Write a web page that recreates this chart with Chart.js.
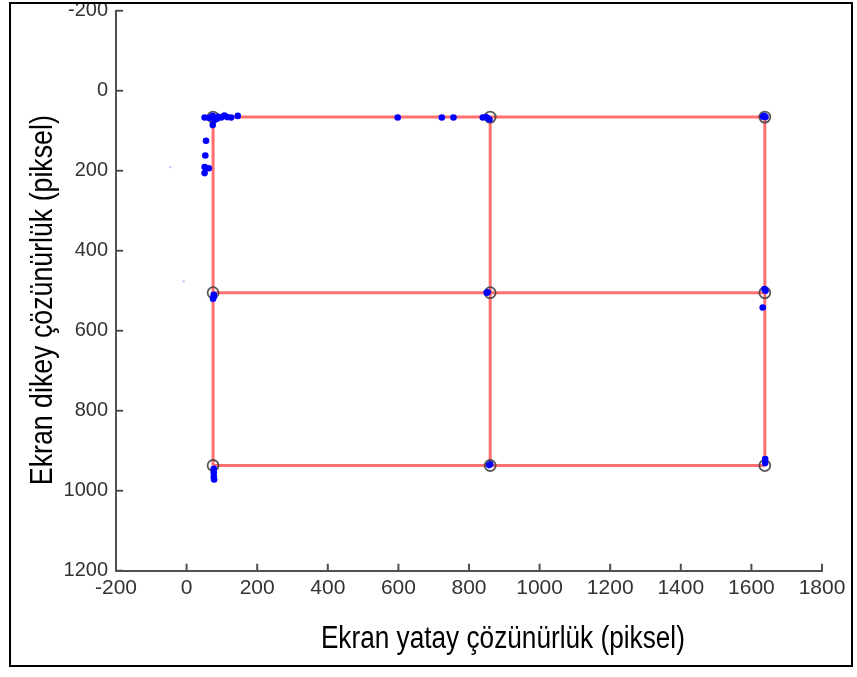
<!DOCTYPE html>
<html>
<head>
<meta charset="utf-8">
<script src="https://cdn.jsdelivr.net/npm/chart.js@4.4.1/dist/chart.umd.min.js"></script>
<style>
  html, body { margin: 0; padding: 0; background: #fff; }
  #wrap { position: relative; width: 857px; height: 677px; }
  #frame { position: absolute; left: 9px; top: 2px; width: 840px; height: 661px; border: 2px solid #000; pointer-events: none; }
  canvas { position: absolute; left: 0; top: 0; }
</style>
</head>
<body>
<div id="wrap">
  <canvas id="main-chart" width="857" height="677"></canvas>
  <div id="frame"></div>
</div>
<script>
// calibration grid (target positions)
const gridX = [75, 860, 1638];
const gridY = [66, 505, 937];

// estimated gaze points
const gazeX = [51, 74, 79, 86, 98, 107, 126, 145, 74, 64, 90, 115,
  55, 53, 51, 63, 51,
  598, 723, 756,
  839, 853, 858, 848,
  1636, 1640, 1633,
  77, 77, 75,
  853, 850,
  1637, 1640, 1632,
  77, 77, 77, 78,
  860, 857,
  1639, 1639];
const gazeY = [67, 63, 73, 70, 67, 62, 67, 63, 86, 68, 65, 66,
  125, 162, 191, 194, 206,
  67, 67, 67,
  67, 69, 72, 66,
  63, 66, 65,
  515, 510, 520,
  504, 505,
  496, 500, 542,
  945, 955, 965, 972,
  934, 936,
  921, 931];

// faint stray samples
const strayX = [-46, -8];
const strayY = [191, 477];

const xTicks = [-200, 1800, 200];
const yTicks = [-200, 1200, 200];

const xTitle = 'Ekran yatay çözünürlük (piksel)';
const yTitle = 'Ekran dikey çözünürlük (piksel)';

const toPts = (xs, ys) => xs.map((x, i) => ({ x: x, y: ys[i] }));

const lineStyle = {
  borderColor: 'rgba(255,95,95,0.9)',
  borderWidth: 3,
  pointRadius: 0,
  showLine: true,
  fill: false,
  order: 3
};

const datasets = [];
datasets.push({
  data: toPts(gazeX, gazeY),
  backgroundColor: '#0000ff',
  borderColor: '#0000ff',
  pointRadius: 3.3,
  borderWidth: 0,
  order: 1
});
datasets.push({
  data: toPts(strayX, strayY),
  backgroundColor: 'rgba(120,120,255,0.45)',
  pointRadius: 1.2,
  borderWidth: 0,
  order: 1
});
const targets = [];
gridY.forEach(y => gridX.forEach(x => targets.push({ x: x, y: y })));
datasets.push({
  data: targets,
  backgroundColor: 'rgba(0,0,0,0)',
  borderColor: 'rgba(60,60,60,0.85)',
  borderWidth: 1.8,
  pointRadius: 5.5,
  order: 2
});
gridY.forEach(y => datasets.push(Object.assign({ data: gridX.map(x => ({ x: x, y: y })) }, lineStyle)));
gridX.forEach(x => datasets.push(Object.assign({ data: gridY.map(y => ({ x: x, y: y })) }, lineStyle)));

const plain = v => String(v);

// inward tick marks and condensed axis titles
const matlabAxes = {
  id: 'matlabAxes',
  afterDraw(chart) {
    const ctx = chart.ctx;
    const xs = chart.scales.x, ys = chart.scales.y;
    const a = chart.chartArea;
    ctx.save();
    ctx.strokeStyle = '#505050';
    ctx.lineWidth = 2;
    ctx.beginPath();
    xs.ticks.forEach(t => {
      const px = xs.getPixelForValue(t.value);
      ctx.moveTo(px, a.bottom);
      ctx.lineTo(px, a.bottom - 7);
    });
    ys.ticks.forEach(t => {
      const py = ys.getPixelForValue(t.value);
      ctx.moveTo(a.left, py);
      ctx.lineTo(a.left + 7, py);
    });
    ctx.stroke();

    ctx.fillStyle = '#000';
    ctx.font = '31px "Liberation Sans", Arial, sans-serif';
    ctx.textAlign = 'center';
    ctx.textBaseline = 'alphabetic';
    const sx = 364 / ctx.measureText(xTitle).width;
    ctx.save();
    ctx.translate(a.left + (a.right - a.left) * 0.548, a.bottom + 77);
    ctx.scale(sx, 1);
    ctx.fillText(xTitle, 0, 0);
    ctx.restore();

    const sy = 370 / ctx.measureText(yTitle).width;
    ctx.translate(a.left - 64.5, (a.top + a.bottom) / 2 + 9.5);
    ctx.rotate(-Math.PI / 2);
    ctx.scale(sy, 1);
    ctx.fillText(yTitle, 0, 0);
    ctx.restore();
  }
};

new Chart(document.getElementById('main-chart').getContext('2d'), {
  type: 'scatter',
  data: { datasets: datasets },
  options: {
    responsive: false,
    animation: false,
    layout: { padding: { left: 0, top: 10.7, right: 35, bottom: 0 } },
    plugins: { legend: { display: false }, tooltip: { enabled: false } },
    scales: {
      x: {
        type: 'linear',
        min: xTicks[0], max: xTicks[1],
        afterFit: s => { s.height = 106.3; s.paddingLeft = 0; s.paddingRight = 0; },
        grid: { drawOnChartArea: false, drawTicks: false },
        border: { display: true, color: '#505050', width: 2 },
        ticks: { stepSize: xTicks[2], callback: plain, color: '#333', font: { family: '"Liberation Sans", Arial, sans-serif', size: 21 }, padding: 5, maxRotation: 0 }
      },
      y: {
        type: 'linear',
        reverse: true,
        min: yTicks[0], max: yTicks[1],
        afterFit: s => { s.width = 116; s.paddingTop = 0; s.paddingBottom = 0; },
        grid: { drawOnChartArea: false, drawTicks: false },
        border: { display: true, color: '#505050', width: 2 },
        ticks: { stepSize: yTicks[2], callback: plain, color: '#333', font: { family: '"Liberation Sans", Arial, sans-serif', size: 20 }, padding: 8 }
      }
    }
  },
  plugins: [matlabAxes]
});
</script>
</body>
</html>
